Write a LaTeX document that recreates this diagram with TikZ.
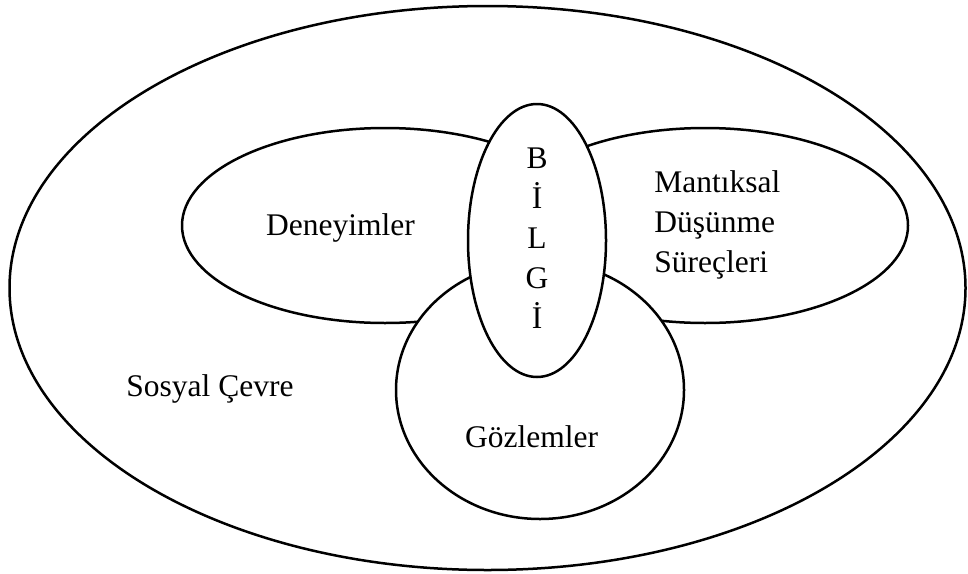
\documentclass[tikz,border=0pt]{standalone}
\usepackage{fontspec}
\setmainfont{Liberation Serif}
\usetikzlibrary{shapes.geometric}
\begin{document}
\begin{tikzpicture}[x=0.5pt,y=-0.5pt,
  blob/.style={ellipse,draw=black,fill=white,line width=1.25pt,inner sep=0pt},
  lbl/.style={inner sep=0pt,font=\fontsize{15.75}{20}\selectfont}]
\useasboundingbox (0,0) rectangle (968,573);
\node[blob,minimum width=478pt,minimum height=282pt] (outer) at (487.5,288) {};
\node[blob,minimum width=203pt,minimum height=97.5pt] (deney) at (385,225.5) {};
\node[blob,minimum width=203pt,minimum height=97.5pt] (mantik) at (705,225.5) {};
\node[blob,minimum width=144pt,minimum height=129pt] (gozlem) at (540,390) {};
\node[blob,minimum width=69pt,minimum height=136.5pt] (bilgi) at (537,240.5) {};
\node[lbl,anchor=base] (tdeney) at (340.5,235) {Deneyimler};
\node[lbl,anchor=base west] (tm1) at (654,192) {Mantıksal};
\node[lbl,anchor=base west] (tm2) at (654,232) {Düşünme};
\node[lbl,anchor=base west] (tm3) at (654,272) {Süreçleri};
\node[lbl,anchor=base] (b1) at (537,168) {B};
\node[lbl,anchor=base] (b2) at (537,208) {İ};
\node[lbl,anchor=base] (b3) at (537,248) {L};
\node[lbl,anchor=base] (b4) at (537,288) {G};
\node[lbl,anchor=base] (b5) at (537,328) {İ};
\node[lbl,anchor=base] (tgoz) at (531.5,447) {Gözlemler};
\node[lbl,anchor=base west] (tsos) at (126,396) {Sosyal Çevre};
\end{tikzpicture}
\end{document}
